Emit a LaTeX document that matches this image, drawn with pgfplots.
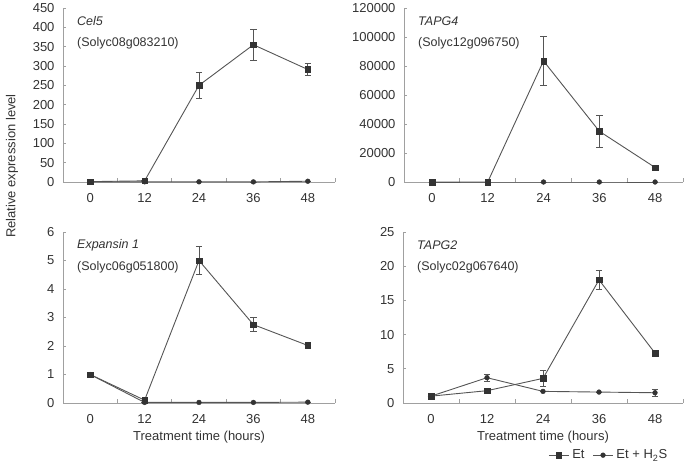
\documentclass[border=0pt]{standalone}
\usepackage{pgfplots}
\pgfplotsset{compat=1.18}
\usepackage{fontspec}
\setmainfont{Liberation Sans}

\definecolor{ln}{HTML}{555555}
\definecolor{mk}{HTML}{333333}
\definecolor{ax}{HTML}{A0A0A0}
\definecolor{tx}{HTML}{333333}

\newcommand{\fs}{\fontsize{12.5}{14}\selectfont}
\newcommand{\ft}{\fontsize{13}{15}\selectfont}

\pgfplotsset{
  panel/.style={
    scale only axis,
    axis x line*=bottom, axis y line*=left,
    axis line style={ax, line width=0.7pt},
    xmin=-6, xmax=54, ymin=0,
    scaled y ticks=false, scaled x ticks=false,
    xtick={0,12,24,36,48}, xticklabels={0,12,24,36,48},
    minor xtick={6,18,30,42,54},
    major x tick style={draw=none},
    tick align=inside,
    major tick length=3pt,
    minor tick length=4pt,
    every tick/.style={ax, line width=0.7pt},
    minor x tick style={ax, line width=0.7pt},
    tick label style={font=\ft, text=tx},
    x tick label style={yshift=-8pt},
    y tick label style={xshift=-5pt},
    label style={font=\ft, text=tx},
    clip=false,
  },
  et/.style={ln, line width=0.9pt, mark=square*, mark size=2.8pt,
    mark options={fill=mk, draw=mk, line width=0.4pt},
    error bars/.cd, y dir=both, y explicit,
    error bar style={ln, line width=0.7pt},
    error mark options={rotate=90, mark size=3.2pt, ln, line width=0.7pt}},
  hs/.style={ln, line width=0.9pt, mark=*, mark size=2.4pt,
    mark options={fill=mk, draw=mk, line width=0.4pt},
    error bars/.cd, y dir=both, y explicit,
    error bar style={ln, line width=0.7pt},
    error mark options={rotate=90, mark size=3.2pt, ln, line width=0.7pt}},
}

\newcommand{\gene}[2]{%
  \node[anchor=west, font=\fs\itshape, text=tx, inner sep=0pt] at ([xshift=14pt,yshift=-13pt]rel axis cs:0,1) {#1};
  \node[anchor=west, font=\fs, text=tx, inner sep=0pt] at ([xshift=14pt,yshift=-35pt]rel axis cs:0,1) {#2};
}

\begin{document}
\begin{tikzpicture}
\useasboundingbox (0,0) rectangle (685pt,467pt);

% Top left: Cel5
\begin{axis}[panel, at={(63pt,285pt)}, anchor=south west,
  width=272pt, height=174pt, ymax=450,
  ytick={0,50,...,450}, yticklabels={0,50,100,150,200,250,300,350,400,450}]
\addplot[et] coordinates {(0,1) +- (0,0) (12,3) +- (0,0) (24,250) +- (0,33) (36,355) +- (0,40) (48,291) +- (0,16)};
\addplot[hs] coordinates {(0,0.5) +- (0,0) (12,0.5) +- (0,0) (24,0.5) +- (0,0) (36,0.3) +- (0,0) (48,2) +- (0,0)};
\gene{Cel5}{(Solyc08g083210)}
\end{axis}

% Top right: TAPG4
\begin{axis}[panel, at={(404pt,285pt)}, anchor=south west,
  width=279pt, height=174pt, ymax=120000,
  ytick={0,20000,...,120000}, yticklabels={0,20000,40000,60000,80000,100000,120000}]
\addplot[et] coordinates {(0,0) +- (0,0) (12,0) +- (0,0) (24,83500) +- (0,17000) (36,35000) +- (0,11200) (48,10000) +- (0,0)};
\addplot[hs] coordinates {(0,0) +- (0,0) (12,0) +- (0,0) (24,0) +- (0,0) (36,0) +- (0,0) (48,0) +- (0,0)};
\gene{TAPG4}{(Solyc12g096750)}
\end{axis}

% Bottom left: Expansin 1
\begin{axis}[panel, at={(63pt,64pt)}, anchor=south west,
  width=272pt, height=171pt, ymax=6,
  ytick={0,1,...,6}, yticklabels={0,1,2,3,4,5,6},
  xlabel={Treatment time (hours)},
  xlabel style={at={(axis description cs:0.5,-0.2)}, anchor=center}]
\addplot[et] coordinates {(0,1) +- (0,0) (12,0.1) +- (0,0) (24,5.0) +- (0,0.5) (36,2.75) +- (0,0.25) (48,2.02) +- (0,0)};
\addplot[hs] coordinates {(0,1) +- (0,0) (12,0.02) +- (0,0) (24,0.02) +- (0,0) (36,0.02) +- (0,0) (48,0.03) +- (0,0)};
\gene{Expansin 1}{(Solyc06g051800)}
\end{axis}

% Bottom right: TAPG2
\begin{axis}[panel, at={(403pt,64pt)}, anchor=south west,
  width=280pt, height=171pt, ymax=25,
  ytick={0,5,...,25}, yticklabels={0,5,10,15,20,25},
  xlabel={Treatment time (hours)},
  xlabel style={at={(axis description cs:0.5,-0.2)}, anchor=center},
  legend style={at={(axis description cs:0.735,-0.305)}, anchor=center, draw=none, fill=none,
    font=\ft, text=tx, legend columns=2, inner sep=1pt,
    /tikz/every odd column/.append style={column sep=1pt},
    /tikz/every even column/.append style={column sep=6pt}},
  legend image code/.code={\draw[#1, mark repeat=2, mark phase=2] plot coordinates {(0pt,0pt) (10pt,0pt) (20pt,0pt)};}]
\addplot[et] coordinates {(0,1) +- (0,0) (12,1.8) +- (0,0) (24,3.6) +- (0,1.2) (36,18) +- (0,1.4) (48,7.3) +- (0,0.3)};
\addplot[hs] coordinates {(0,1) +- (0,0) (12,3.7) +- (0,0.5) (24,1.7) +- (0,0) (36,1.6) +- (0,0) (48,1.5) +- (0,0.5)};
\legend{Et, Et + H\textsubscript{2}S}
\gene{TAPG2}{(Solyc02g067640)}
\end{axis}

\node[rotate=90, font=\ft, text=tx] at (12pt,301pt) {Relative expression level};
\end{tikzpicture}
\end{document}
